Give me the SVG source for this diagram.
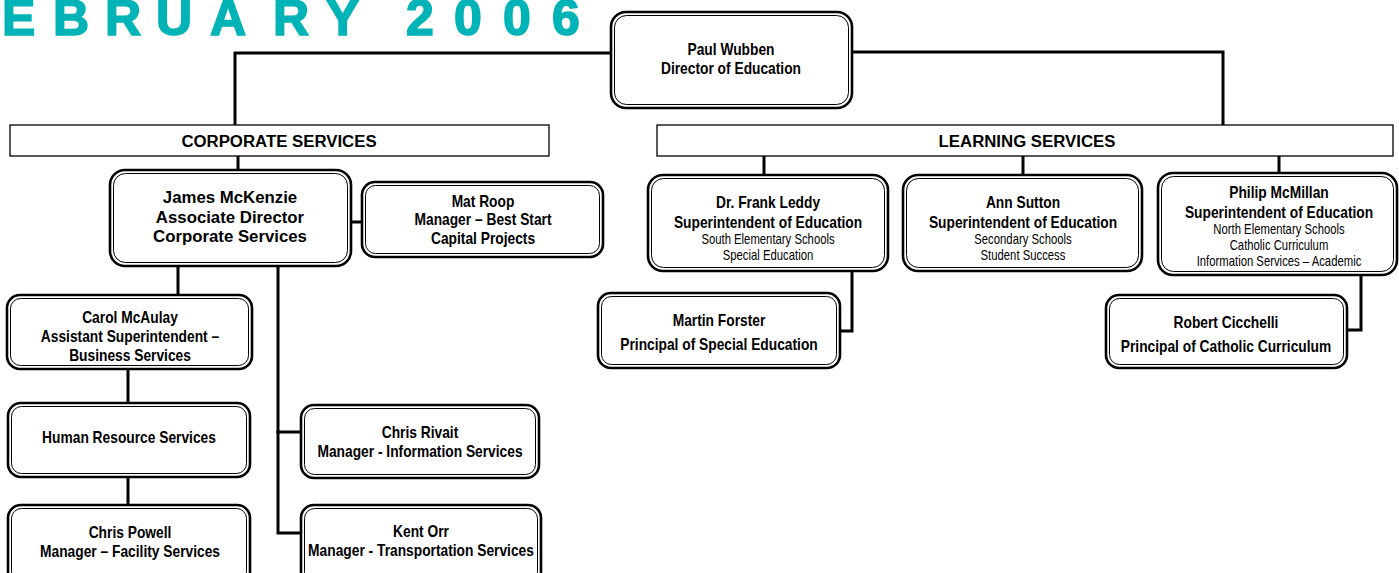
<svg xmlns="http://www.w3.org/2000/svg" width="1399" height="573" viewBox="0 0 1399 573">
<style>
.o{fill:#fff;stroke:#000;stroke-width:2.6}
.i{fill:none;stroke:#000;stroke-width:1}
.bar{fill:#fff;stroke:#000;stroke-width:1.3}
.c{fill:none;stroke:#000;stroke-width:3;stroke-linecap:square}
text{text-anchor:middle;fill:#000}
.n{font-family:"Liberation Sans Narrow","Arial Narrow","Liberation Sans",sans-serif;font-weight:bold;font-size:16.8px}
.s{font-family:"Liberation Sans Narrow","Arial Narrow","Liberation Sans",sans-serif;font-weight:normal;font-size:13.8px}
.w{font-family:"Liberation Sans",Arial,sans-serif;font-weight:bold;font-size:16.8px}
.t{font-family:"Liberation Sans",Arial,sans-serif;font-weight:bold;font-size:50px;fill:#00B3B6;stroke:#00B3B6;stroke-width:1.6;text-anchor:start}
</style>
<text class="t" x="2 53 105 156 210 273 326 406 454 503 552" y="35">EBRUARY2006</text>
<g id="connectors">
<polyline class="c" points="611,53 235,53 235,125"/>
<polyline class="c" points="852,52 1223,52 1223,125"/>
<line class="c" x1="238" y1="157" x2="238" y2="170"/>
<line class="c" x1="352" y1="222" x2="362" y2="222"/>
<line class="c" x1="178" y1="267" x2="178" y2="295"/>
<line class="c" x1="128" y1="370" x2="128" y2="403"/>
<line class="c" x1="128" y1="478" x2="128" y2="505"/>
<polyline class="c" points="278,267 278,533 301,533"/>
<line class="c" x1="278" y1="432" x2="301" y2="432"/>
<line class="c" x1="764" y1="157" x2="764" y2="175"/>
<line class="c" x1="1023" y1="157" x2="1023" y2="175"/>
<line class="c" x1="1279" y1="157" x2="1279" y2="173"/>
<polyline class="c" points="852,272 852,331 840,331"/>
<polyline class="c" points="1361,276 1361,330 1347,330"/>
</g>
<g id="paul"><rect class="o" x="611" y="12" width="241" height="96" rx="15"/><rect class="i" x="614.5" y="15.5" width="234" height="89" rx="12"/>
<g transform="translate(731,0) scale(0.82,1)"><text class="n" x="0" y="55">Paul Wubben</text><text class="n" x="0" y="74">Director of Education</text></g></g>
<g id="corporate"><rect class="bar" x="10" y="125" width="539" height="31"/><text class="w" x="279" y="147">CORPORATE SERVICES</text></g>
<g id="learning"><rect class="bar" x="657" y="125" width="736" height="31"/><text class="w" x="1027" y="147">LEARNING SERVICES</text></g>
<g id="james"><rect class="o" x="110" y="170" width="241" height="96" rx="15"/><rect class="i" x="113.5" y="173.5" width="234" height="89" rx="12"/>
<text class="w" x="230" y="203">James McKenzie</text><text class="w" x="230" y="223">Associate Director</text><text class="w" x="230" y="242">Corporate Services</text></g>
<g id="mat"><rect class="o" x="362" y="182" width="241" height="75" rx="13"/><rect class="i" x="365.5" y="185.5" width="234" height="68" rx="10"/>
<g transform="translate(483,0) scale(0.82,1)"><text class="n" x="0" y="207">Mat Roop</text><text class="n" x="0" y="225">Manager – Best Start</text><text class="n" x="0" y="244">Capital Projects</text></g></g>
<g id="carol"><rect class="o" x="7" y="295" width="245" height="74" rx="13"/><rect class="i" x="10.5" y="298.5" width="238" height="67" rx="10"/>
<g transform="translate(130,0) scale(0.82,1)"><text class="n" x="0" y="323">Carol McAulay</text><text class="n" x="0" y="342">Assistant Superintendent –</text><text class="n" x="0" y="361">Business Services</text></g></g>
<g id="hr"><rect class="o" x="8" y="403" width="242" height="74" rx="13"/><rect class="i" x="11.5" y="406.5" width="235" height="67" rx="10"/>
<g transform="translate(129,0) scale(0.82,1)"><text class="n" x="0" y="443">Human Resource Services</text></g></g>
<g id="powell"><rect class="o" x="8" y="505" width="242" height="80" rx="13"/><rect class="i" x="11.5" y="508.5" width="235" height="73" rx="10"/>
<g transform="translate(130,0) scale(0.82,1)"><text class="n" x="0" y="538">Chris Powell</text><text class="n" x="0" y="557">Manager – Facility Services</text></g></g>
<g id="rivait"><rect class="o" x="301" y="405" width="238" height="73" rx="13"/><rect class="i" x="304.5" y="408.5" width="231" height="66" rx="10"/>
<g transform="translate(420,0) scale(0.82,1)"><text class="n" x="0" y="438">Chris Rivait</text><text class="n" x="0" y="457">Manager - Information Services</text></g></g>
<g id="kent"><rect class="o" x="301" y="505" width="240" height="80" rx="13"/><rect class="i" x="304.5" y="508.5" width="233" height="73" rx="10"/>
<g transform="translate(421,0) scale(0.82,1)"><text class="n" x="0" y="537">Kent Orr</text><text class="n" x="0" y="556">Manager - Transportation Services</text></g></g>
<g id="leddy"><rect class="o" x="648" y="175" width="240" height="96" rx="15"/><rect class="i" x="651.5" y="178.5" width="233" height="89" rx="12"/>
<g transform="translate(768,0) scale(0.82,1)"><text class="n" x="0" y="208">Dr. Frank Leddy</text><text class="n" x="0" y="228">Superintendent of Education</text><text class="s" x="0" y="244">South Elementary Schools</text><text class="s" x="0" y="260">Special Education</text></g></g>
<g id="sutton"><rect class="o" x="903" y="175" width="239" height="96" rx="15"/><rect class="i" x="906.5" y="178.5" width="232" height="89" rx="12"/>
<g transform="translate(1023,0) scale(0.82,1)"><text class="n" x="0" y="208">Ann Sutton</text><text class="n" x="0" y="228">Superintendent of Education</text><text class="s" x="0" y="244">Secondary Schools</text><text class="s" x="0" y="260">Student Success</text></g></g>
<g id="mcmillan"><rect class="o" x="1158" y="173" width="239" height="102" rx="15"/><rect class="i" x="1161.5" y="176.5" width="232" height="95" rx="12"/>
<g transform="translate(1279,0) scale(0.82,1)"><text class="n" x="0" y="198">Philip McMillan</text><text class="n" x="0" y="218">Superintendent of Education</text><text class="s" x="0" y="234">North Elementary Schools</text><text class="s" x="0" y="250">Catholic Curriculum</text><text class="s" x="0" y="266">Information Services – Academic</text></g></g>
<g id="forster"><rect class="o" x="598" y="293" width="242" height="75" rx="13"/><rect class="i" x="601.5" y="296.5" width="235" height="68" rx="10"/>
<g transform="translate(719,0) scale(0.82,1)"><text class="n" x="0" y="326">Martin Forster</text><text class="n" x="0" y="350">Principal of Special Education</text></g></g>
<g id="cicchelli"><rect class="o" x="1106" y="295" width="241" height="73" rx="13"/><rect class="i" x="1109.5" y="298.5" width="234" height="66" rx="10"/>
<g transform="translate(1226,0) scale(0.82,1)"><text class="n" x="0" y="328">Robert Cicchelli</text><text class="n" x="0" y="352">Principal of Catholic Curriculum</text></g></g>
</svg>
